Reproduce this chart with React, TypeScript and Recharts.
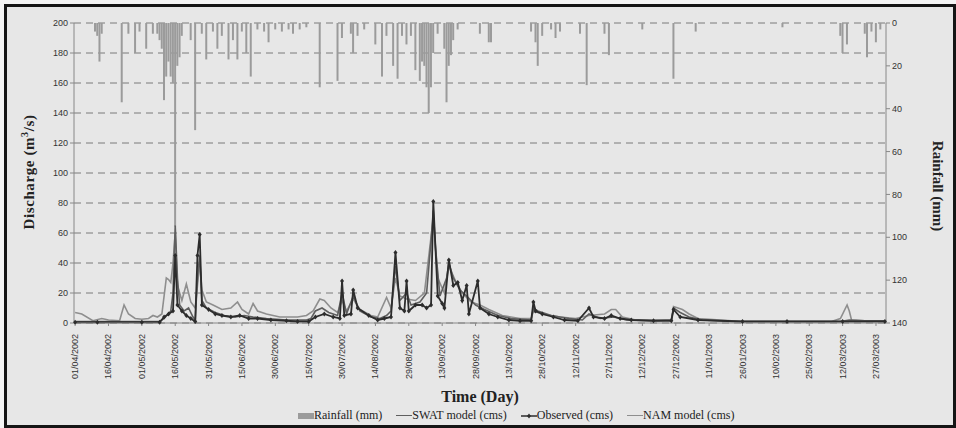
import React from 'react';
import {
  ComposedChart, Bar, Line, XAxis, YAxis, CartesianGrid,
} from 'recharts';

// daily series run from 01/04/2002 for 365 days; values are [dayIndex, value]
const rainfallEvents: [number, number][] = [
  [9, 4], [10, 6], [11, 18], [12, 5], [21, 37], [24, 5], [27, 14], [29, 4], [32, 12], [35, 5],
  [37, 5], [38, 8], [39, 12], [40, 36], [41, 25], [42, 18], [43, 25], [44, 28], [45, 95], [46, 20],
  [47, 16], [48, 6], [52, 8], [54, 50], [57, 5], [59, 17], [62, 4], [64, 12], [66, 6], [69, 17],
  [71, 8], [73, 17], [75, 4], [77, 14], [79, 25], [82, 3], [85, 4], [87, 9], [90, 3], [93, 4],
  [96, 3], [98, 5], [101, 3], [104, 2], [110, 30], [118, 27], [120, 7], [124, 5], [125, 14], [127, 6],
  [130, 3], [135, 10], [138, 25], [140, 6], [143, 20], [145, 26], [147, 6], [149, 10], [151, 6], [153, 22],
  [155, 27], [156, 18], [157, 20], [158, 30], [159, 42], [160, 30], [161, 14], [163, 5], [166, 12], [167, 37],
  [168, 20], [169, 15], [170, 8], [172, 3], [182, 5], [186, 9], [187, 9], [205, 4], [207, 9], [208, 20],
  [210, 6], [214, 3], [216, 7], [218, 4], [227, 5], [230, 29], [238, 5], [240, 15], [255, 3], [269, 26],
  [279, 4], [318, 2], [344, 6], [345, 14], [347, 10], [355, 5], [356, 16], [358, 4], [360, 9], [362, 3],
];

const swatModel: [number, number][] = [
  [0, 1], [20, 1], [38, 1], [40, 3], [43, 8], [44, 20], [45, 65], [46, 30], [47, 12], [49, 8],
  [51, 10], [53, 4], [54, 2], [55, 30], [56, 45], [57, 15], [59, 10], [63, 7], [67, 5], [72, 4],
  [76, 5], [80, 4], [86, 3], [95, 2], [104, 2], [106, 3], [108, 8], [111, 10], [114, 7], [118, 5],
  [120, 20], [122, 6], [125, 18], [128, 8], [133, 4], [137, 3], [140, 5], [142, 8], [144, 38], [146, 15],
  [149, 20], [151, 12], [155, 14], [158, 20], [160, 55], [161, 75], [162, 50], [164, 18], [167, 30], [168, 40],
  [170, 30], [173, 22], [176, 18], [180, 12], [184, 9], [190, 5], [196, 3], [205, 2], [206, 10], [208, 8],
  [214, 5], [222, 3], [228, 2], [231, 6], [236, 3], [242, 4], [248, 2], [260, 1.5], [268, 2], [269, 10],
  [272, 7], [276, 4], [282, 2], [295, 1], [330, 1], [344, 1], [348, 2], [355, 1.5], [364, 1.5],
];

const observed: [number, number][] = [
  [0, 0.5], [10, 0.5], [30, 0.5], [38, 0.5], [40, 4], [42, 6], [44, 8], [45, 45], [46, 12], [48, 8],
  [50, 5], [52, 3], [54, 1], [55, 45], [56, 59], [57, 12], [60, 9], [63, 6], [66, 5], [70, 4],
  [74, 5], [78, 3], [82, 3], [88, 2], [95, 1.5], [100, 1], [105, 1], [108, 4], [112, 6], [116, 4],
  [119, 3], [120, 28], [121, 5], [124, 6], [125, 22], [127, 10], [132, 5], [136, 2], [139, 3], [142, 4],
  [144, 47], [146, 10], [148, 8], [149, 28], [150, 8], [153, 12], [156, 12], [158, 10], [160, 12], [161, 81],
  [163, 18], [165, 13], [166, 10], [168, 42], [170, 25], [172, 27], [174, 15], [176, 25], [177, 6], [181, 28],
  [182, 10], [186, 6], [190, 4], [195, 2], [200, 1.5], [205, 1.5], [206, 14], [207, 8], [210, 6], [215, 4],
  [220, 2], [226, 1.5], [231, 10], [233, 4], [238, 3], [241, 5], [245, 3], [250, 2], [260, 1.5], [268, 1.5],
  [269, 9], [272, 4], [280, 2], [300, 1], [320, 1], [345, 1], [364, 1],
];

const namModel: [number, number][] = [
  [0, 7], [3, 6], [8, 1.5], [12, 3], [15, 2], [20, 1.5], [22, 12], [24, 6], [27, 3], [30, 2.5],
  [33, 3], [35, 5], [37, 4], [39, 6], [41, 30], [42, 29], [43, 27], [44, 40], [45, 60], [46, 25],
  [48, 15], [50, 26], [52, 14], [54, 10], [56, 40], [57, 22], [59, 14], [62, 12], [66, 9], [70, 10],
  [73, 14], [75, 9], [78, 6], [80, 13], [82, 8], [86, 6], [92, 4], [100, 4], [104, 5], [107, 8],
  [110, 16], [112, 15], [115, 10], [118, 7], [120, 15], [122, 8], [125, 16], [128, 9], [133, 5], [136, 4],
  [140, 17], [142, 10], [144, 30], [146, 18], [149, 16], [153, 15], [157, 20], [159, 45], [161, 70], [163, 30],
  [166, 20], [168, 38], [171, 28], [174, 20], [178, 14], [182, 12], [186, 9], [192, 5], [200, 3], [205, 3],
  [206, 8], [210, 6], [218, 4], [225, 3], [231, 5], [238, 6], [241, 9], [243, 9], [246, 4], [252, 2],
  [262, 2], [268, 2], [269, 11], [273, 9], [276, 6], [280, 3], [290, 2], [300, 1], [320, 1], [340, 1],
  [344, 3], [347, 12], [348, 8], [349, 2], [355, 1.5], [364, 1.5],
];

const xTicks = [
  '01/04/2002', '16/04/2002', '01/05/2002', '16/05/2002', '31/05/2002', '15/06/2002', '30/06/2002',
  '15/07/2002', '30/07/2002', '14/08/2002', '29/08/2002', '13/09/2002', '28/09/2002', '13/10/2002',
  '28/10/2002', '12/11/2002', '27/11/2002', '12/12/2002', '27/12/2002', '11/01/2003', '26/01/2003',
  '10/02/2003', '25/02/2003', '12/03/2003', '27/03/2003',
];
const leftTicks = [0, 20, 40, 60, 80, 100, 120, 140, 160, 180, 200];
const rightTicks = [0, 20, 40, 60, 80, 100, 120, 140];

const DAYS = 365;
const pad = (n: number) => String(n).padStart(2, '0');
const dayLabel = (i: number) => {
  const d = new Date(Date.UTC(2002, 3, 1) + i * 86400000);
  return `${pad(d.getUTCDate())}/${pad(d.getUTCMonth() + 1)}/${d.getUTCFullYear()}`;
};
const lookup = (pts: [number, number][]) => new Map(pts);
const rainMap = lookup(rainfallEvents);
const swatMap = lookup(swatModel);
const obsMap = lookup(observed);
const namMap = lookup(namModel);

const data = Array.from({ length: DAYS }, (_, i) => ({
  date: dayLabel(i),
  rain: rainMap.get(i) ?? null,
  swat: swatMap.get(i) ?? null,
  obs: obsMap.get(i) ?? null,
  nam: namMap.get(i) ?? null,
}));

const C_SWAT = '#5f5f5f';
const C_OBS = '#2c2c2c';
const C_NAM = '#8e8e8e';
const C_RAIN = '#9b9b9b';

const DateTick = ({ x, y, payload }: any) => (
  <g transform={`translate(${x},${y + 6})`}>
    <text transform="rotate(-90)" textAnchor="end" dy={3} fontSize={9}
      fontFamily="Liberation Sans, Arial, sans-serif" fill="#333">
      {payload.value}
    </text>
  </g>
);

const Diamond = (p: any) => {
  if (p.cy == null || p.value == null) return <g key={p.key} />;
  const { cx, cy } = p;
  return (
    <path key={p.key} d={`M${cx},${cy - 2.6}L${cx + 2},${cy}L${cx},${cy + 2.6}L${cx - 2},${cy}Z`} fill={C_OBS} />
  );
};

const serif = 'Liberation Serif, "Times New Roman", serif';

export default function App() {
  return (
    <div style={{ position: 'absolute', left: 0, top: 0, width: 956, height: 428, background: '#f4f4f4' }}>
      <div style={{
        position: 'absolute', left: 4, top: 4, width: 946, height: 418,
        border: '3px solid #151515', background: '#e7e7e7',
      }} />
      <ComposedChart
        width={956}
        height={428}
        data={data}
        barCategoryGap={0}
        margin={{ top: 23, right: 40, left: 44, bottom: 43 }}
        style={{ position: 'absolute', left: 0, top: 0 }}
      >
        <CartesianGrid yAxisId="left" vertical={false} stroke="#7a7a7a" strokeDasharray="7 5" />
        <XAxis
          dataKey="date"
          ticks={xTicks}
          interval={0}
          height={62}
          tick={<DateTick />}
          tickLine={{ stroke: '#888' }}
          tickSize={3}
          axisLine={{ stroke: '#888' }}
        />
        <YAxis
          yAxisId="left"
          domain={[0, 200]}
          ticks={leftTicks}
          width={30}
          tick={{ fontSize: 9, fill: '#333', fontFamily: 'Liberation Sans, Arial, sans-serif' }}
          tickSize={4}
          tickLine={{ stroke: '#888' }}
          axisLine={{ stroke: '#888' }}
        />
        <YAxis
          yAxisId="right"
          orientation="right"
          reversed
          domain={[0, 140]}
          ticks={rightTicks}
          width={30}
          tick={{ fontSize: 9, fill: '#333', fontFamily: 'Liberation Sans, Arial, sans-serif' }}
          tickSize={4}
          tickLine={{ stroke: '#888' }}
          axisLine={{ stroke: '#888' }}
        />
        <Bar yAxisId="right" dataKey="rain" fill={C_RAIN} barSize={2} isAnimationActive={false} />
        <Line yAxisId="left" type="linear" dataKey="nam" stroke={C_NAM} strokeWidth={1.6}
          dot={false} connectNulls isAnimationActive={false} />
        <Line yAxisId="left" type="linear" dataKey="swat" stroke={C_SWAT} strokeWidth={1.6}
          dot={false} connectNulls isAnimationActive={false} />
        <Line yAxisId="left" type="linear" dataKey="obs" stroke={C_OBS} strokeWidth={1.8}
          dot={<Diamond />} connectNulls isAnimationActive={false} />
      </ComposedChart>

      <div style={{
        position: 'absolute', left: 28, top: 172, transform: 'translate(-50%,-50%) rotate(-90deg)',
        whiteSpace: 'nowrap', fontFamily: serif, fontWeight: 'bold', fontSize: 15, color: '#222',
        letterSpacing: 0.6,
      }}>
        Discharge (m<sup style={{ fontSize: 10 }}>3</sup>/s)
      </div>
      <div style={{
        position: 'absolute', left: 937, top: 186, transform: 'translate(-50%,-50%) rotate(90deg)',
        whiteSpace: 'nowrap', fontFamily: serif, fontWeight: 'bold', fontSize: 15, color: '#222',
      }}>
        Rainfall (mm)
      </div>
      <div style={{
        position: 'absolute', left: 480, top: 397, transform: 'translate(-50%,-50%)',
        whiteSpace: 'nowrap', fontFamily: serif, fontWeight: 'bold', fontSize: 16, color: '#222',
      }}>
        Time (Day)
      </div>

      <div style={{
        position: 'absolute', left: 298, top: 408, display: 'flex', alignItems: 'center', gap: 14,
        fontFamily: serif, fontSize: 12, color: '#222', whiteSpace: 'nowrap',
      }}>
        <span style={{ display: 'flex', alignItems: 'center' }}>
          <span style={{ width: 16, height: 6, background: C_RAIN, display: 'inline-block' }} />
          Rainfall (mm)
        </span>
        <span style={{ display: 'flex', alignItems: 'center' }}>
          <span style={{ width: 16, height: 1.5, background: C_SWAT, display: 'inline-block' }} />
          SWAT model (cms)
        </span>
        <span style={{ display: 'flex', alignItems: 'center' }}>
          <svg width={16} height={8}>
            <line x1={0} y1={4} x2={16} y2={4} stroke={C_OBS} strokeWidth={1.5} />
            <path d="M8,1.4L10,4L8,6.6L6,4Z" fill={C_OBS} />
          </svg>
          Observed (cms)
        </span>
        <span style={{ display: 'flex', alignItems: 'center' }}>
          <span style={{ width: 16, height: 1.5, background: C_NAM, display: 'inline-block' }} />
          NAM model (cms)
        </span>
      </div>
    </div>
  );
}
